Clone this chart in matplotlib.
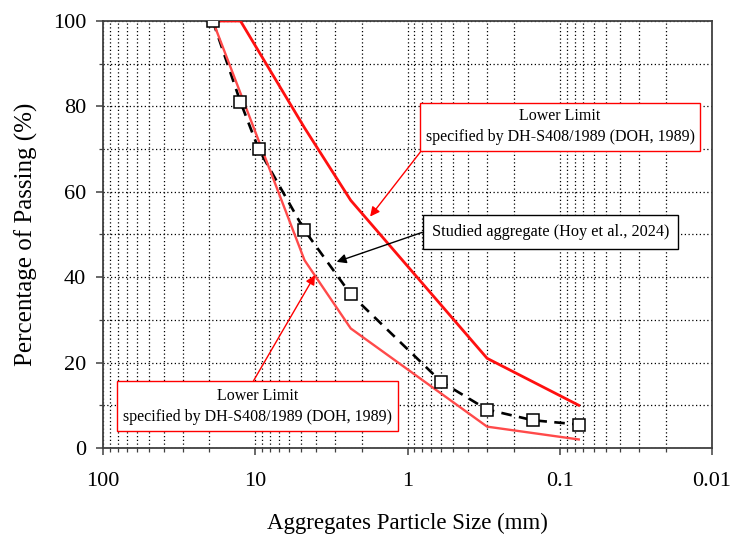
import matplotlib.pyplot as plt
from matplotlib.ticker import FixedLocator, NullFormatter, LogLocator

plt.rcParams['font.family'] = ['Liberation Serif', 'DejaVu Serif']

# gradation data (sieve size in mm, % passing)
sieve = [19, 12.5, 9.5, 4.75, 2.36, 0.6, 0.3, 0.15, 0.075]
studied = [100, 81, 70, 51, 36, 15.5, 9, 6.5, 5.5]

upper_size = [19, 12.5, 4.75, 2.36, 0.3, 0.075]
upper_pass = [100, 100, 75, 58, 21, 10]

lower_size = [19, 4.75, 2.36, 0.3, 0.075]
lower_pass = [100, 44, 28, 5, 2]

x_ticks = [100, 10, 1, 0.1, 0.01]
x_labels = ['100', '10', '1', '0.1', '0.01']

fig = plt.figure(figsize=(7.31, 5.36), dpi=100)
ax = fig.add_axes([103/731, 1 - 448/536, (712-103)/731, (448-21)/536])

ax.plot(sieve, studied, color='black', lw=1.9, linestyle=(0, (4, 2.8)), zorder=3)
ax.plot(upper_size, upper_pass, color='#ff1010', lw=2.0, zorder=4)
ax.plot(lower_size, lower_pass, color='#ff4a4a', lw=1.7, zorder=4)
ax.plot(sieve, studied, linestyle='none', marker='s', markersize=8.5,
        markerfacecolor='white', markeredgecolor='black', markeredgewidth=1.1, zorder=5)

ax.set_xscale('log')
ax.set_xlim(100, 0.01)
ax.set_ylim(0, 100)
ax.xaxis.set_major_locator(FixedLocator(x_ticks))
ax.set_xticklabels(x_labels)
ax.xaxis.set_minor_locator(LogLocator(base=10, subs=range(2, 10)))
ax.xaxis.set_minor_formatter(NullFormatter())
ax.set_yticks(range(0, 101, 20))
ax.set_yticks(range(10, 100, 20), minor=True)

ax.grid(True, which='both', color='black', linestyle=(0, (1, 2)), linewidth=0.9)
ax.tick_params(which='both', direction='out', labelsize=16, color='#404040')
ax.tick_params(which='major', length=5, width=1.1)
ax.tick_params(which='minor', length=3, width=0.9)
ax.tick_params(axis='x', pad=12)
ax.tick_params(axis='y', pad=7)
for s in ax.spines.values():
    s.set_color('#404040')
    s.set_linewidth(1.3)

ax.set_xlabel('Aggregates Particle Size (mm)', fontsize=16.5, labelpad=16)
ax.set_ylabel('Percentage of Passing (%)', fontsize=18, labelpad=11)

# annotations
ax.annotate('Lower Limit\nspecified by DH-S408/1989 (DOH, 1989)',
            xy=(1.76, 54.2), xytext=(0.0995, 75.2), textcoords='data',
            ha='center', va='center', fontsize=11.5, linespacing=1.4,
            bbox=dict(boxstyle='square,pad=0.35', fc='white', ec='red', lw=1),
            arrowprops=dict(arrowstyle='-|>', color='red', lw=1, mutation_scale=14,
                            relpos=(0, 0), shrinkA=0, shrinkB=0), zorder=6)

ax.annotate('Studied aggregate (Hoy et al., 2024)',
            xy=(2.92, 43.6), xytext=(0.115, 50.6), textcoords='data',
            ha='center', va='center', fontsize=11.7,
            bbox=dict(boxstyle='square,pad=0.55', fc='white', ec='black', lw=1),
            arrowprops=dict(arrowstyle='-|>', color='black', lw=1, mutation_scale=14,
                            relpos=(0, 0.68), shrinkA=0, shrinkB=0), zorder=6)

ax.annotate('Lower Limit\nspecified by DH-S408/1989 (DOH, 1989)',
            xy=(4.05, 40.5), xytext=(9.66, 9.8), textcoords='data',
            ha='center', va='center', fontsize=11.5, linespacing=1.4,
            bbox=dict(boxstyle='square,pad=0.4', fc='white', ec='red', lw=1),
            arrowprops=dict(arrowstyle='-|>', color='red', lw=1, mutation_scale=14,
                            relpos=(0.47, 1), shrinkA=0, shrinkB=0), zorder=6)

fig.savefig('out.png', dpi=100)
